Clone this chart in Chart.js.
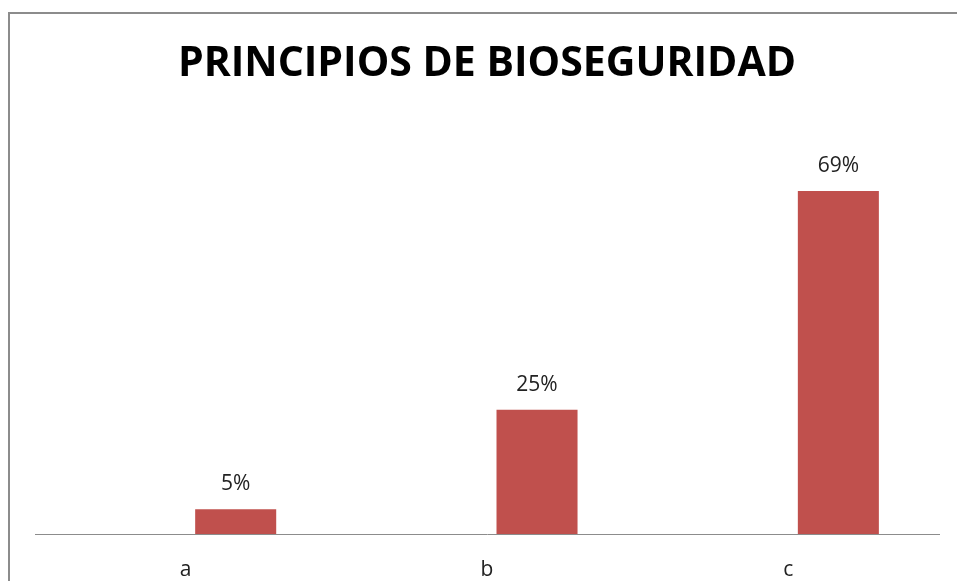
<!DOCTYPE html>
<html>
<head>
<meta charset="utf-8">
<script src="https://cdn.jsdelivr.net/npm/chart.js@4"></script>
<style>
  html, body { margin: 0; padding: 0; background: #fff; }
  #wrap { position: relative; width: 957px; height: 581px; }
  #frame {
    position: absolute; left: 8px; top: 12px; right: -4px; bottom: -4px;
    border-left: 2px solid #8c8c8c; border-top: 2px solid #8c8c8c;
  }
  canvas { position: absolute; left: 0; top: 0; }
</style>
</head>
<body>
<div id="wrap">
  <div id="frame"></div>
  <canvas id="chart" width="957" height="581"></canvas>
</div>
<script>
const categories = ['a', 'b', 'c'];
// the original sheet has an empty first series, so the bars sit right of centre
const emptySeries = [null, null, null];
const percentages = [5, 25, 69];

// draws the "NN%" label over each bar
const barLabels = {
    id: 'barLabels',
    afterDatasetsDraw(chart) {
        const ctx = chart.ctx;
        const meta = chart.getDatasetMeta(1);
        ctx.save();
        ctx.font = '21px "Open Sans"';
        ctx.fillStyle = '#222';
        ctx.textAlign = 'center';
        ctx.textBaseline = 'middle';
        meta.data.forEach((bar, i) => {
            ctx.fillText(percentages[i] + '%', bar.x, bar.y - 25);
        });
        ctx.restore();
    }
};

const ctx = document.getElementById('chart');
new Chart(ctx, {
    type: 'bar',
    data: {
        labels: categories,
        datasets: [{
            label: '',
            data: emptySeries,
            categoryPercentage: 0.664,
            barPercentage: 0.81,
        }, {
            label: 'Principios',
            data: percentages,
            backgroundColor: '#C0504D',
            categoryPercentage: 0.664,
            barPercentage: 0.81,
        }]
    },
    options: {
        responsive: false,
        animation: false,
        layout: {
            padding: { left: 35, right: 18, top: 0, bottom: 0 }
        },
        plugins: {
            legend: { display: false },
            tooltip: { enabled: false },
            title: {
                display: true,
                text: 'PRINCIPIOS DE BIOSEGURIDAD',
                color: '#000',
                font: { family: 'Open Sans', size: 41, weight: 'bold', lineHeight: 1.2 },
                padding: { top: 40, bottom: 47 }
            }
        },
        scales: {
            x: {
                grid: { display: false, drawTicks: false },
                border: { color: '#8c8c8c', width: 1 },
                ticks: {
                    color: '#222',
                    padding: 23,
                    font: { family: 'Open Sans', size: 21 }
                },
                afterFit(scale) { scale.height = 47; }
            },
            y: {
                display: false,
                min: 0,
                max: 80
            }
        }
    },
    plugins: [barLabels]
});
</script>
</body>
</html>
